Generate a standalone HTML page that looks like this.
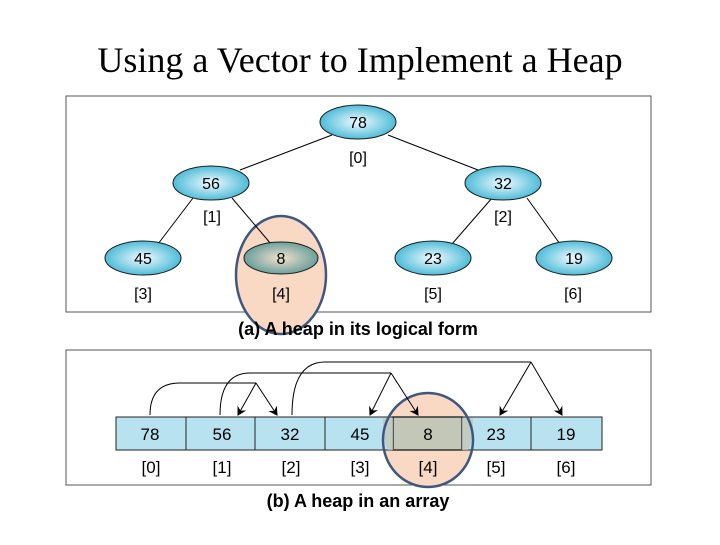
<!DOCTYPE html>
<html><head><meta charset="utf-8"><style>
body{margin:0;background:#fff;width:720px;height:540px;overflow:hidden}
</style></head><body>
<svg width="720" height="540" xmlns="http://www.w3.org/2000/svg">
<defs>
<radialGradient id="g" cx="50%" cy="50%" r="55%"><stop offset="0" stop-color="#f2fbff"/><stop offset="1" stop-color="#3fb6d4"/></radialGradient>
<radialGradient id="h" cx="50%" cy="50%" r="55%"><stop offset="0" stop-color="#f4e0cc"/><stop offset="1" stop-color="#5d9a98"/></radialGradient>
<marker id="a" markerWidth="10" markerHeight="10" refX="8" refY="5" orient="auto" markerUnits="userSpaceOnUse"><path d="M0,0 L9,5 L0,10 L3,5 z" fill="#000"/></marker>
</defs>
<text x="360" y="72" font-family="Liberation Serif, serif" font-size="36" text-anchor="middle">Using a Vector to Implement a Heap</text>
<rect x="66" y="96" width="585" height="216" fill="#fff" stroke="#555" stroke-width="1"/>
<ellipse cx="281" cy="275" rx="45" ry="59" fill="#f9d9c4" stroke="#3e5780" stroke-width="2.5"/>
<g stroke="#000" stroke-width="1">
<line x1="332" y1="135" x2="240" y2="170"/><line x1="388" y1="135" x2="478" y2="170"/>
<line x1="193" y1="198" x2="158" y2="244"/><line x1="232" y1="198" x2="271" y2="244"/>
<line x1="492" y1="198" x2="452" y2="244"/><line x1="527" y1="198" x2="560" y2="244"/>
</g>
<g stroke="#1a1a1a" stroke-width="1">
<ellipse cx="358" cy="122" rx="38" ry="17" fill="url(#g)"/>
<ellipse cx="211" cy="183" rx="38" ry="17" fill="url(#g)"/>
<ellipse cx="503" cy="183" rx="38" ry="17" fill="url(#g)"/>
<ellipse cx="143" cy="258" rx="38" ry="17" fill="url(#g)"/>
<ellipse cx="281" cy="258" rx="37" ry="16" fill="url(#h)"/>
<ellipse cx="433" cy="258" rx="38" ry="17" fill="url(#g)"/>
<ellipse cx="574" cy="258" rx="38" ry="17" fill="url(#g)"/>
</g>
<g font-family="Liberation Sans, sans-serif" font-size="16" text-anchor="middle">
<text x="358" y="128">78</text><text x="211" y="189">56</text><text x="503" y="189">32</text>
<text x="143" y="264">45</text><text x="281" y="264">8</text><text x="433" y="264">23</text><text x="574" y="264">19</text>
<text x="358" y="163">[0]</text><text x="212" y="222">[1]</text><text x="503" y="222">[2]</text>
<text x="143" y="299">[3]</text><text x="281" y="299">[4]</text><text x="433" y="299">[5]</text><text x="573" y="299">[6]</text>
</g>
<text x="358" y="335" font-family="Liberation Sans, sans-serif" font-size="18" font-weight="bold" text-anchor="middle">(a) A heap in its  logical form</text>
<rect x="66" y="350" width="585" height="135" fill="#fff" stroke="#555" stroke-width="1"/>
<ellipse cx="428" cy="440" rx="45" ry="47" fill="#f9d9c4"/>
<g stroke="#222" stroke-width="1">
<rect x="116" y="417" width="70" height="33" fill="#b9e2f0"/>
<rect x="186" y="417" width="69" height="33" fill="#b9e2f0"/>
<rect x="255" y="417" width="70" height="33" fill="#b9e2f0"/>
<rect x="325" y="417" width="68" height="33" fill="#b9e2f0"/>
<rect x="462" y="417" width="69" height="33" fill="#b9e2f0"/>
<rect x="531" y="417" width="71" height="33" fill="#b9e2f0"/>
<rect x="393" y="417" width="69" height="33" fill="#c3c7b8" stroke="#333" stroke-width="1.5"/>
</g>
<path d="M383,418 L393,418 L393,450 L388,450 Q383,440 383,418 Z" fill="#c3c7b8" opacity="0.8"/>
<path d="M473,418 L462,418 L462,450 L468,450 Q473,440 473,418 Z" fill="#c3c7b8" opacity="0.8"/>
<ellipse cx="428" cy="440" rx="45" ry="47" fill="none" stroke="#3e5780" stroke-width="2.5"/>
<g fill="none" stroke="#000" stroke-width="1">
<path d="M150,415 Q150,383 180,383 L256,383" />
<path d="M256,383 L238,415" marker-end="url(#a)"/><path d="M256,383 L277,415" marker-end="url(#a)"/>
<path d="M220,415 Q220,373 250,373 L391,373"/>
<path d="M391,373 L370,415" marker-end="url(#a)"/><path d="M391,373 L418,415" marker-end="url(#a)"/>
<path d="M292,415 Q292,362 325,362 L531,362"/>
<path d="M531,362 L500,415" marker-end="url(#a)"/><path d="M531,362 L562,415" marker-end="url(#a)"/>
</g>
<g font-family="Liberation Sans, sans-serif" font-size="17" text-anchor="middle">
<text x="150" y="440">78</text><text x="222" y="440">56</text><text x="290" y="440">32</text><text x="360" y="440">45</text>
<text x="428" y="440">8</text><text x="496" y="440">23</text><text x="566" y="440">19</text>
<text x="151" y="473">[0]</text><text x="222" y="473">[1]</text><text x="291" y="473">[2]</text><text x="360" y="473">[3]</text>
<text x="428" y="473">[4]</text><text x="496" y="473">[5]</text><text x="566" y="473">[6]</text>
</g>
<text x="358" y="507" font-family="Liberation Sans, sans-serif" font-size="18" font-weight="bold" text-anchor="middle">(b) A heap in an array</text>
</svg>
</body></html>
